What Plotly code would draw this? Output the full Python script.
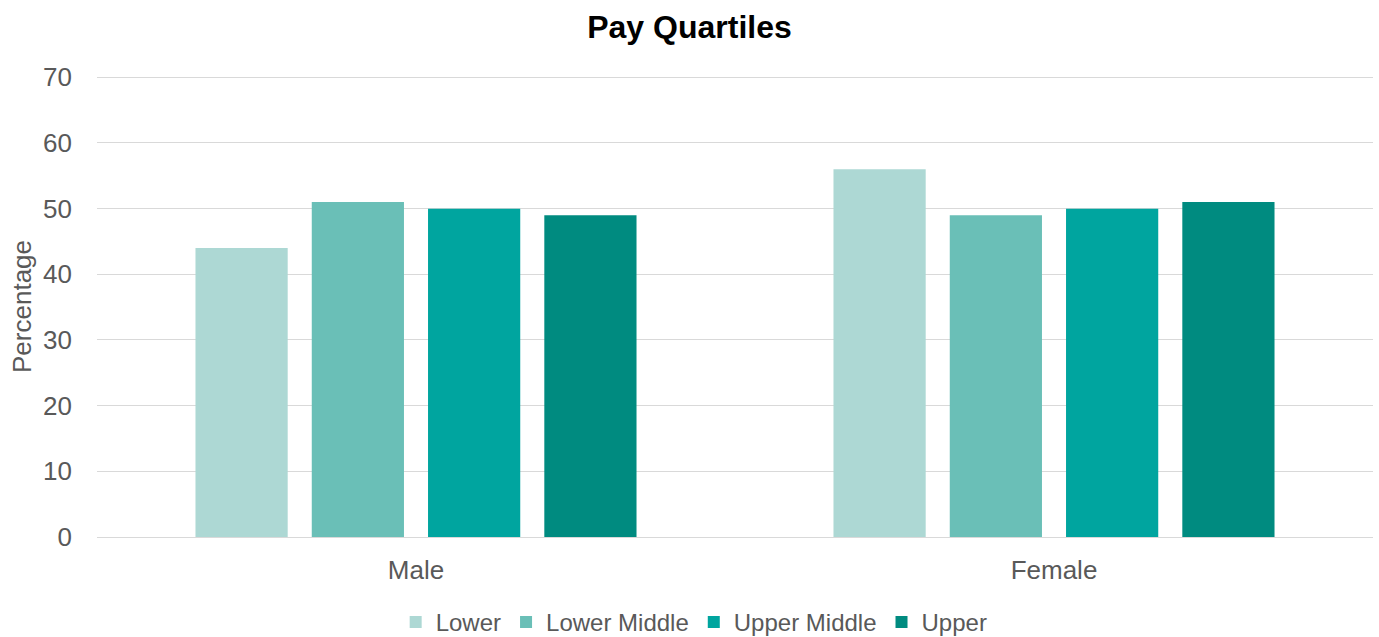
import plotly.graph_objects as go

categories = ["Male", "Female"]
series_names = ["Lower", "Lower Middle", "Upper Middle", "Upper"]
lower = [44, 56]
lower_middle = [51, 49]
upper_middle = [50, 50]
upper = [49, 51]
colors = ["#ADD8D4", "#6ABFB7", "#00A59F", "#008B80"]
y_ticks = [0, 10, 20, 30, 40, 50, 60, 70]

fig = go.Figure()
for name, vals, c in zip(series_names, [lower, lower_middle, upper_middle, upper], colors):
    fig.add_trace(go.Bar(x=categories, y=vals, name=name, marker=dict(color=c, line=dict(width=0))))

font = "Liberation Sans, Arial, sans-serif"
grey = "#595959"
fig.update_layout(
    width=1379, height=637,
    margin=dict(l=97, r=6, t=76, b=100, autoexpand=False),
    paper_bgcolor="white", plot_bgcolor="white",
    barmode="group", bargap=0.271, bargroupgap=0.207,
    title=dict(text="<b>Pay Quartiles</b>", x=0.5, xanchor="center", y=0.958, yanchor="middle",
               font=dict(family=font, size=32, color="black")),
    font=dict(family=font, size=24, color=grey),
    showlegend=True,
    legend=dict(orientation="h", x=0.468, xanchor="center", y=-0.185, yanchor="middle",
                font=dict(family=font, size=24, color=grey), itemwidth=30,
                traceorder="normal", tracegroupgap=0),
    yaxis=dict(range=[0, 70.2], tickvals=y_ticks, showgrid=True,
               gridcolor="#D9D9D9", gridwidth=1.3,
               zeroline=False, ticks="", ticklabelstandoff=24, automargin=False,
               title=dict(text="Percentage", font=dict(family=font, size=26, color=grey), standoff=3),
               tickfont=dict(family=font, size=26, color=grey)),
    xaxis=dict(showline=True, linecolor="#D9D9D9", linewidth=1.3, ticks="", automargin=False,
               ticklabelstandoff=10,
               tickfont=dict(family=font, size=26, color=grey)),
)
fig.write_html("out.html", config={"displayModeBar": False},
               post_script="document.body.style.margin='0';")
